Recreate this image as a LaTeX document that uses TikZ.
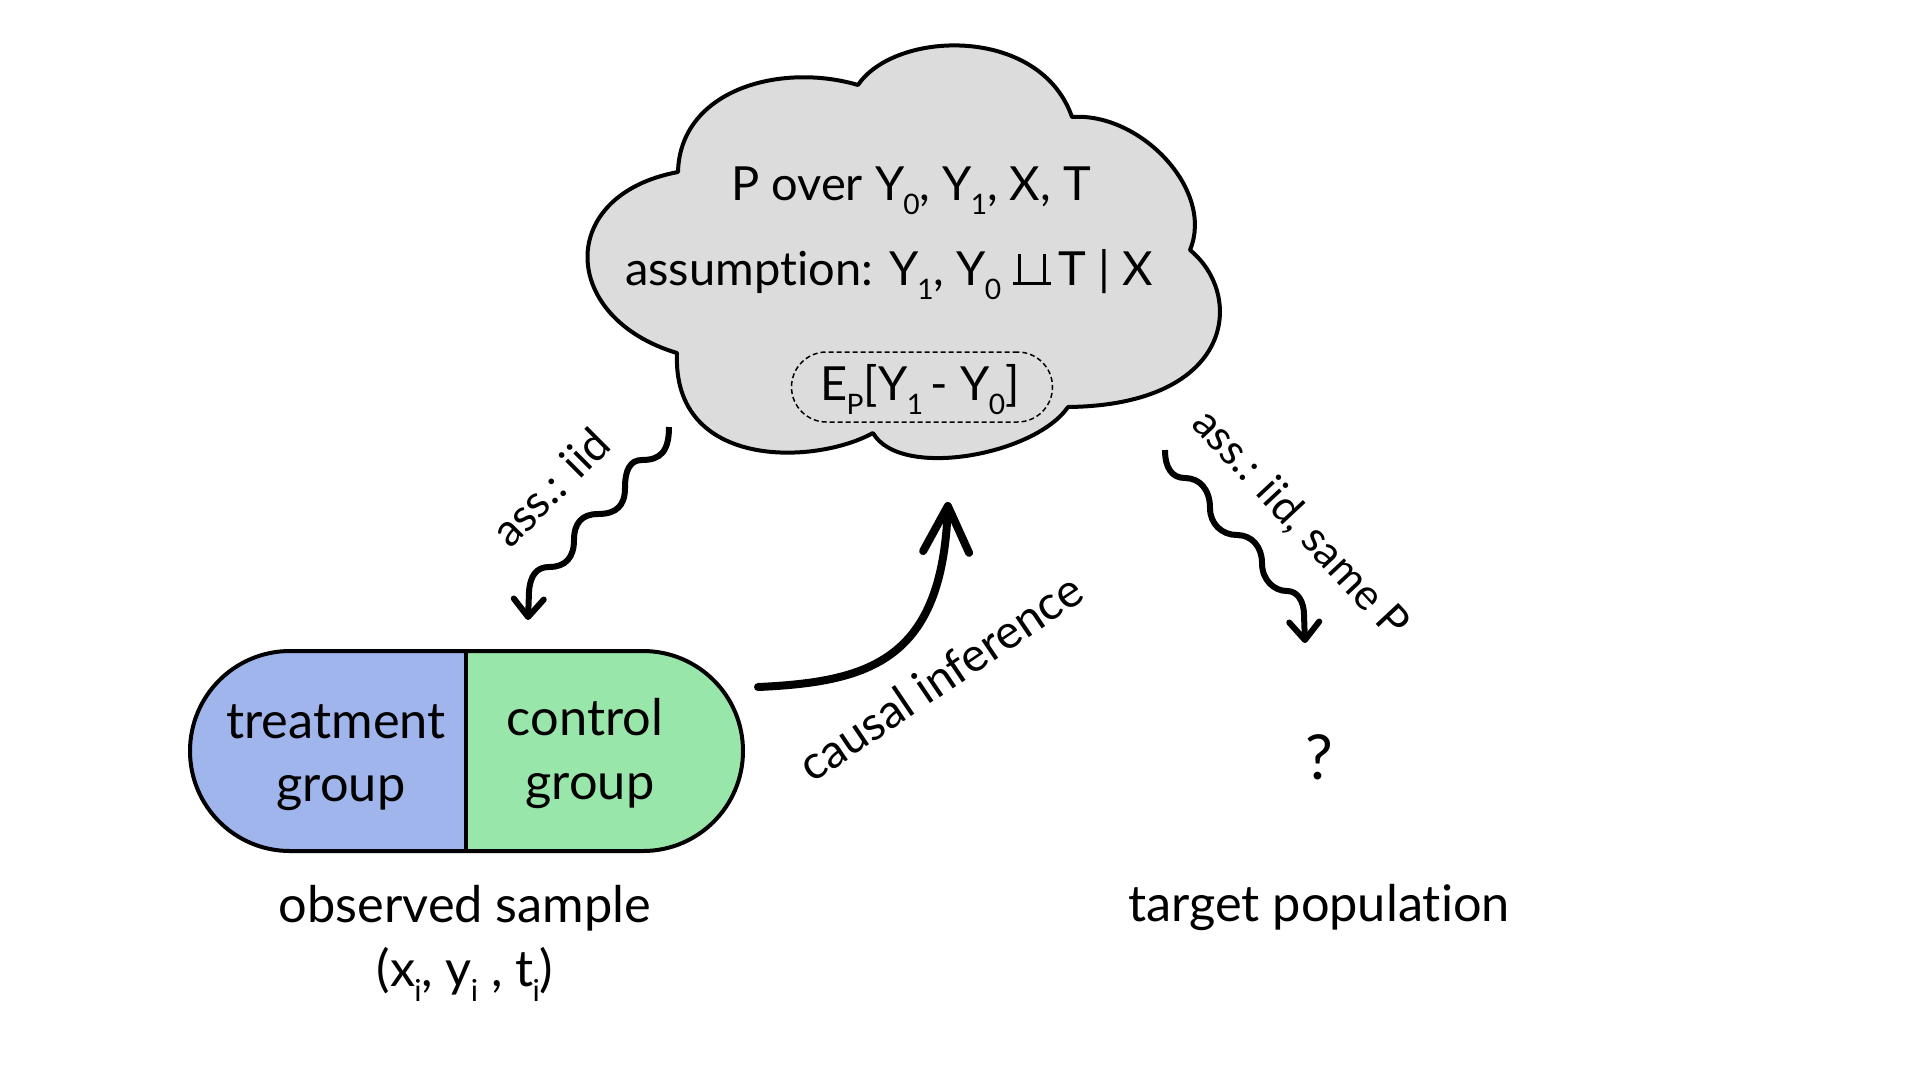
\documentclass[tikz,border=0pt]{standalone}
\usepackage{fontspec}
\setmainfont{Lato}[Ligatures={NoCommon}]
\usepackage{graphicx}
\usetikzlibrary{arrows.meta}
\definecolor{cloudgray}{RGB}{220,220,220}
\definecolor{pillblue}{RGB}{160,181,236}
\definecolor{pillgreen}{RGB}{153,230,171}
\newcommand\sbs[1]{\kern-0.02em\raisebox{-0.3em}{\scalebox{0.6}{#1}}}
\newcommand\indepsym{\makebox[0.8em][l]{\rule{0.8em}{0.07em}\hspace{-0.70em}\rule{0.07em}{0.66em}\hspace{0.46em}\rule{0.07em}{0.66em}}}
\begin{document}
\begin{tikzpicture}[x=1pt,y=1pt,
  txt/.style={font=\fontsize{47}{56}\selectfont, inner sep=0pt},
  bigtxt/.style={font=\fontsize{50.5}{60}\selectfont, inner sep=0pt},
  lbl/.style={font=\fontsize{43}{52}\selectfont, inner sep=0pt},
  cloudline/.style={line width=4pt, line join=round},
  pillline/.style={line width=4pt, line join=round},
  wavy/.style={line width=6pt, -{Straight Barb[length=18pt,width=30pt,round]}},
  bigarrow/.style={line width=8pt, line cap=round, -{Straight Barb[length=46pt,width=46pt,round]}}]
\useasboundingbox (0,0) rectangle (1920,-1080);

% cloud
\draw[cloudline, fill=cloudgray] (678,-172)
 .. controls (680,-90) and (780,-62) .. (858,-85)
 .. controls (895,-30) and (1040,-25) .. (1072,-117)
 .. controls (1140,-112) and (1215,-190) .. (1190,-250)
 .. controls (1245,-295) and (1235,-405) .. (1068,-407)
 .. controls (1035,-455) and (900,-480) .. (873,-433)
 .. controls (815,-465) and (672,-470) .. (677,-353)
 .. controls (560,-318) and (555,-195) .. (678,-172) -- cycle;

\node[txt, anchor=base] (p1) at (911,-200) {P over Y\sbs{0}, Y\sbs{1}, X, T};
\node[txt, anchor=base] (p2) at (889,-285) {assumption: Y\sbs{1}, Y\sbs{0} \indepsym\,T | X};
\node[draw, dashed, line width=1.5pt, dash pattern=on 5pt off 3pt, rounded corners=35pt,
      minimum width=261pt, minimum height=70pt, inner sep=0pt] (epbox) at (922,-387) {};
\node[txt, anchor=base] (ep) at (920,-400) {E\sbs{P}[Y\sbs{1}\,- Y\sbs{0}]};

% pill
\fill[pillblue] (466,-651) -- (290,-651) arc[start angle=90,end angle=270,radius=100pt] -- (466,-851) -- cycle;
\fill[pillgreen] (466,-651) -- (643,-651) arc[start angle=90,end angle=-90,radius=100pt] -- (466,-851) -- cycle;
\draw[pillline] (290,-651) -- (643,-651) arc[start angle=90,end angle=-90,radius=100pt] -- (290,-851) arc[start angle=270,end angle=90,radius=100pt] -- cycle;
\coordinate (divtop) at (466,-651);
\coordinate (divbot) at (466,-851);
\draw[line width=3.5pt] (divtop) -- (divbot);

\node[bigtxt, anchor=base] (tr1) at (336,-738) {treatment};
\node[bigtxt, anchor=base] (tr2) at (341,-801) {group};
\node[bigtxt, anchor=base] (co1) at (585,-735) {control};
\node[bigtxt, anchor=base] (co2) at (590,-799) {group};
\node[bigtxt, anchor=base] (obs) at (465,-922) {observed sample};
\node[bigtxt, anchor=base] (tup) at (465,-986) {(x\sbs{i}, y\sbs{i} , t\sbs{i})};
\node[bigtxt, anchor=base] (tgt) at (1319,-921) {target population};
\node[font=\fontsize{62}{70}\selectfont, inner sep=0pt, anchor=base] (q) at (1319,-779) {?};

% labels
\node[lbl, font=\fontsize{45}{54}\selectfont, rotate=45] (l1) at (550,-487) {ass.: iid};
\node[lbl, font=\fontsize{47}{56}\selectfont, rotate=34] (l2) at (940,-677) {causal inference};
\node[lbl, rotate=-47] (l3) at (1300,-524) {ass.: iid, same P};

% connectors
\coordinate (ls) at (669,-427);
\coordinate (lt) at (528,-620);
\draw[wavy] (ls)
 .. controls (669,-452) and (660,-460) .. (642,-460)
 .. controls (630,-460) and (625,-470) .. (625,-488)
 .. controls (625,-506) and (616,-514) .. (598,-514)
 .. controls (582,-514) and (574,-523) .. (574,-540)
 .. controls (574,-557) and (566,-567) .. (549,-567)
 .. controls (537,-567) and (530,-575) .. (529,-592)
 -- (lt);

\coordinate (rs) at (1165,-450);
\coordinate (rt) at (1305,-643);
\draw[wavy] (rs)
 .. controls (1165,-468) and (1172,-478) .. (1185,-478)
 .. controls (1200,-478) and (1210,-490) .. (1210,-508)
 .. controls (1210,-524) and (1222,-535) .. (1237,-535)
 .. controls (1252,-535) and (1262,-547) .. (1262,-563)
 .. controls (1262,-580) and (1274,-591) .. (1287,-591)
 .. controls (1298,-591) and (1304,-602) .. (1304,-615)
 -- (rt);

\coordinate (cs) at (758,-687);
\coordinate (ct) at (948,-502);
\draw[bigarrow] (cs) .. controls (870,-682) and (942,-660) .. (ct);
\end{tikzpicture}
\end{document}
